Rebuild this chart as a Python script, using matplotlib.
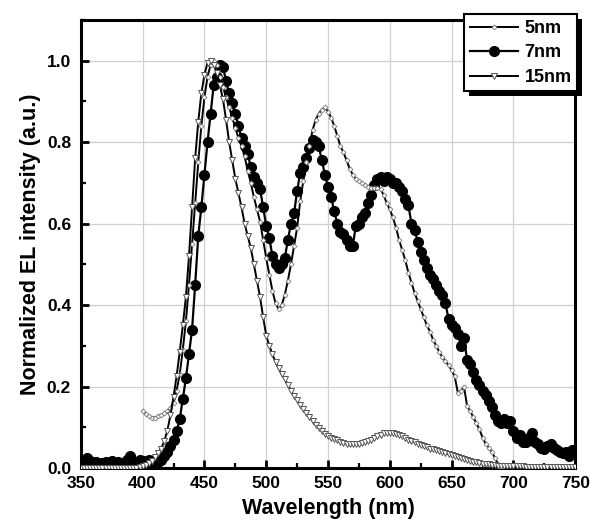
import numpy as np
import matplotlib
matplotlib.use('Agg')
import matplotlib.pyplot as plt
from matplotlib.ticker import MultipleLocator, FormatStrFormatter
from matplotlib.patches import Rectangle

plt.rcParams['font.family'] = ['Liberation Sans', 'DejaVu Sans']
plt.rcParams['font.weight'] = 'bold'

# 15nm: 350..750 nm, step 2.5
wl_15 = np.arange(350, 750.1, 2.5)
el_15 = [
    0.0, 0.0, 0.0, 0.0, 0.0, 0.0, 0.0, 0.0, 0.0, 0.0,
    0.0, 0.0, 0.0, 0.0, 0.0, 0.0, 0.0, 0.0, 0.0, 0.002,
    0.004, 0.007, 0.012, 0.018, 0.026, 0.036, 0.048, 0.066, 0.092, 0.13,
    0.175, 0.226, 0.285, 0.35, 0.42, 0.52, 0.64, 0.76, 0.85, 0.92,
    0.965, 0.995, 1.0, 0.99, 0.97, 0.94, 0.905, 0.855, 0.80, 0.755,
    0.71, 0.675, 0.64, 0.60, 0.57, 0.54, 0.50, 0.46, 0.42, 0.37,
    0.325, 0.30, 0.28, 0.26, 0.245, 0.23, 0.218, 0.205, 0.19, 0.178,
    0.166, 0.155, 0.145, 0.135, 0.125, 0.115, 0.106, 0.098, 0.09, 0.084,
    0.079, 0.075, 0.071, 0.068, 0.065, 0.062, 0.06, 0.059, 0.059, 0.059,
    0.06, 0.062, 0.064, 0.067, 0.07, 0.074, 0.078, 0.082, 0.085, 0.087,
    0.087, 0.086, 0.084, 0.081, 0.078, 0.074, 0.07, 0.067, 0.063, 0.06,
    0.057, 0.054, 0.051, 0.048, 0.046, 0.044, 0.041, 0.039, 0.036, 0.034,
    0.031, 0.029, 0.027, 0.024, 0.022, 0.02, 0.018, 0.016, 0.014, 0.013,
    0.011, 0.010, 0.009, 0.008, 0.007, 0.006, 0.005, 0.005, 0.005, 0.004,
    0.004, 0.004, 0.004, 0.004, 0.003, 0.003, 0.003, 0.003, 0.003, 0.003,
    0.003, 0.003, 0.003, 0.003, 0.003, 0.003, 0.003, 0.003, 0.003, 0.003,
    0.003,
]

# 5nm: 400..690 nm, step 2.5
wl_5 = np.arange(400, 690.1, 2.5)
el_5 = [
    0.14, 0.133, 0.127, 0.124, 0.124, 0.127, 0.13, 0.134, 0.14, 0.148,
    0.16, 0.19, 0.23, 0.29, 0.36, 0.45, 0.55, 0.65, 0.75, 0.84,
    0.91, 0.96, 0.99, 1.0, 0.99, 0.96, 0.935, 0.91, 0.885, 0.86,
    0.835, 0.81, 0.79, 0.765, 0.73, 0.70, 0.665, 0.635, 0.605, 0.56,
    0.515, 0.475, 0.435, 0.405, 0.39, 0.40, 0.425, 0.46, 0.50, 0.545,
    0.59, 0.655, 0.705, 0.75, 0.79, 0.83, 0.855, 0.87, 0.88, 0.885,
    0.875, 0.86, 0.84, 0.815, 0.79, 0.775, 0.755, 0.735, 0.72, 0.71,
    0.705, 0.70, 0.695, 0.69, 0.688, 0.688, 0.688, 0.685, 0.67, 0.65,
    0.635, 0.615, 0.59, 0.56, 0.535, 0.51, 0.48, 0.455, 0.43, 0.41,
    0.39, 0.37, 0.35, 0.335, 0.315, 0.30, 0.285, 0.272, 0.262, 0.252,
    0.24, 0.225, 0.185, 0.19, 0.20, 0.152, 0.14, 0.125, 0.11, 0.095,
    0.075, 0.06, 0.05, 0.04, 0.025, 0.01, 0.0,
]

# 7nm: 350..750 nm, step 2.5
wl_7 = np.arange(350, 750.1, 2.5)
el_7 = [
    0.02, 0.015, 0.025, 0.018, 0.012, 0.015, 0.01, 0.012, 0.015, 0.01,
    0.018, 0.012, 0.015, 0.01, 0.012, 0.02, 0.03, 0.015, 0.012, 0.02,
    0.018, 0.012, 0.02, 0.015, 0.01, 0.015, 0.02, 0.03, 0.04, 0.055,
    0.07, 0.09, 0.12, 0.17, 0.22, 0.28, 0.34, 0.45, 0.57, 0.64,
    0.72, 0.80, 0.87, 0.94, 0.96, 0.99, 0.985, 0.95, 0.92, 0.895,
    0.87, 0.84, 0.81, 0.79, 0.77, 0.74, 0.715, 0.70, 0.685, 0.64,
    0.595, 0.565, 0.52, 0.50, 0.49, 0.50, 0.515, 0.56, 0.60, 0.625,
    0.68, 0.725, 0.74, 0.76, 0.785, 0.805, 0.80, 0.79, 0.755, 0.72,
    0.69, 0.665, 0.63, 0.60, 0.58, 0.575, 0.56, 0.545, 0.545, 0.595,
    0.60, 0.615, 0.625, 0.65, 0.67, 0.695, 0.71, 0.715, 0.705, 0.715,
    0.71, 0.70, 0.70, 0.69, 0.68, 0.66, 0.645, 0.60, 0.585, 0.555,
    0.53, 0.51, 0.49, 0.475, 0.465, 0.45, 0.435, 0.425, 0.405, 0.365,
    0.35, 0.345, 0.33, 0.30, 0.32, 0.265, 0.255, 0.235, 0.215, 0.205,
    0.19, 0.18, 0.165, 0.15, 0.13, 0.115, 0.11, 0.12, 0.11, 0.115,
    0.09, 0.075, 0.08, 0.065, 0.065, 0.075, 0.085, 0.065, 0.06, 0.05,
    0.048, 0.055, 0.06, 0.05, 0.045, 0.04, 0.038, 0.04, 0.03, 0.045,
    0.04,
]

fig = plt.figure(figsize=(5.9, 5.23), dpi=100)
ax = fig.add_axes([0.137, 0.105, 0.838, 0.857])

ax.plot(wl_5, el_5, color='black', lw=1.4, marker='D', markersize=2.5,
        markerfacecolor='white', markeredgecolor='#777777', markeredgewidth=0.6,
        label='5nm', zorder=4)
ax.plot(wl_7, el_7, color='black', lw=1.6, marker='o', markersize=7,
        markerfacecolor='black', markeredgecolor='black', label='7nm', zorder=3)
ax.plot(wl_15, el_15, color='black', lw=1.4, marker='v', markersize=5,
        markerfacecolor='white', markeredgecolor='#555555', markeredgewidth=0.7,
        label='15nm', zorder=5)

ax.set_xlim(350, 750)
ax.set_ylim(0, 1.1)
ax.xaxis.set_major_locator(MultipleLocator(50))
ax.xaxis.set_minor_locator(MultipleLocator(25))
ax.yaxis.set_major_locator(MultipleLocator(0.2))
ax.yaxis.set_minor_locator(MultipleLocator(0.1))
ax.yaxis.set_major_formatter(FormatStrFormatter('%.1f'))

ax.grid(True, which='major', color='#d0d0d0', lw=0.9)
ax.set_axisbelow(True)
for s in ax.spines.values():
    s.set_linewidth(2.2)
ax.tick_params(which='major', direction='in', length=6, width=2,
               labelsize=12.5, top=False, right=False)
ax.tick_params(axis='y', which='major', pad=7)
ax.tick_params(axis='x', which='major', pad=6)
ax.tick_params(which='minor', direction='in', length=3.5, width=1.6,
               top=False, right=False)
for lab in ax.get_xticklabels() + ax.get_yticklabels():
    lab.set_fontweight('bold')

ax.set_xlabel('Wavelength (nm)', fontsize=15.5, fontweight='bold', labelpad=5)
ax.set_ylabel('Normalized EL intensity (a.u.)', fontsize=15.5, fontweight='bold', labelpad=4)

leg = ax.legend(loc='upper right', bbox_to_anchor=(1.004, 1.012), borderaxespad=0,
                fancybox=False, shadow=False,
                edgecolor='black', framealpha=1, handlelength=2.7,
                handletextpad=0.35, labelspacing=0.42, borderpad=0.3,
                prop={'weight': 'bold', 'size': 13})
leg.get_frame().set_linewidth(1.5)
leg.set_zorder(10)

# black drop shadow behind the legend box
fig.canvas.draw()
bb = leg.get_window_extent().translated(5, -5).transformed(ax.transAxes.inverted())
shadow = Rectangle((bb.x0, bb.y0), bb.width, bb.height,
                   transform=ax.transAxes, facecolor='black', edgecolor='none',
                   zorder=9, clip_on=False)
ax.add_patch(shadow)

fig.savefig('out.png', dpi=100)
